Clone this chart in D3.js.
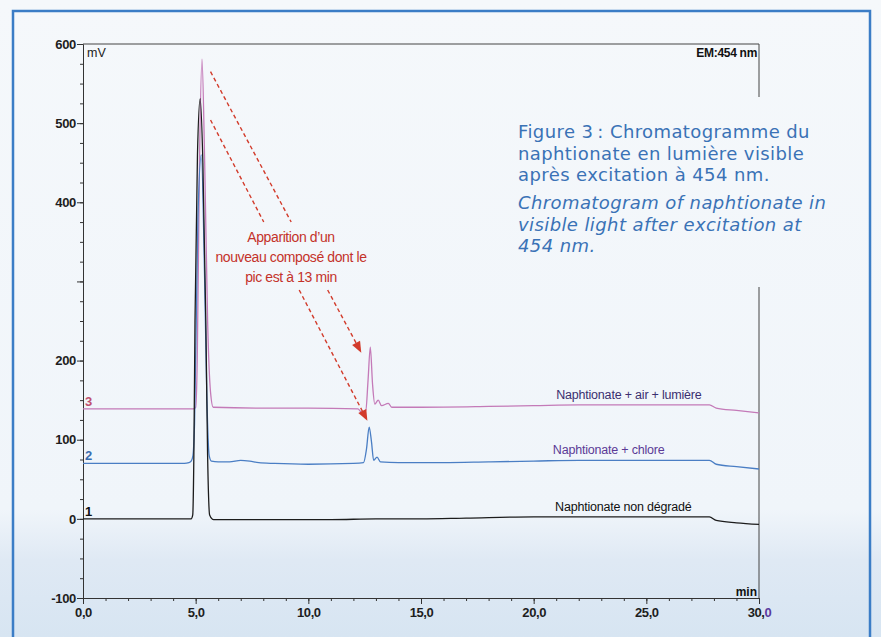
<!DOCTYPE html>
<html>
<head>
<meta charset="utf-8">
<script src="https://cdn.jsdelivr.net/npm/d3@7"></script>
<style>
body{margin:0;background:#eef3f8;}
svg{display:block;}
</style>
</head>
<body>
<svg id="chart"></svg>
<script>
// trace 1 : naphtionate non dégradé (min, mV)
var timeBlack = [0, 4.8, 4.87, 4.92, 4.97, 5.08, 5.2, 5.32, 5.45, 5.53, 5.62, 5.8, 7, 9, 11, 13, 15, 17, 20, 23, 26, 27.8, 28.1, 29, 30];
var valBlack  = [0, 0, 5, 80, 250, 460, 531, 450, 250, 80, 5, -1, -1, -1, -1, 0, 0, 1, 2.5, 2.5, 2.5, 2.5, -2, -5, -7];

// trace 2 : naphtionate + chlore
var timeBlue = [0, 4.5, 4.7, 4.8, 4.88, 4.95, 5.1, 5.25, 5.4, 5.5, 5.6, 5.7, 6, 6.5, 7, 7.4, 7.8, 8.5, 10, 12, 12.45, 12.58, 12.7, 12.8, 12.9, 13.05, 13.2, 14, 16, 18, 20, 22, 24, 26, 27.8, 28.1, 29, 30];
var valBlue  = [70, 70, 71, 73, 80, 120, 380, 460, 300, 150, 80, 73, 72, 72, 74, 73, 71, 70, 69, 70, 71, 88, 116, 98, 74, 78, 72, 71, 71, 72, 73, 74, 74, 74, 74, 69, 66, 63];

// trace 3 : naphtionate + air + lumière
var timePink = [0, 4.9, 5.0, 5.07, 5.17, 5.28, 5.4, 5.53, 5.66, 5.78, 8, 10, 12.2, 12.35, 12.55, 12.65, 12.75, 12.85, 12.95, 13.1, 13.25, 13.55, 13.7, 15, 18, 20, 22, 24, 26, 27.8, 28.1, 29, 30];
var valPink  = [139, 139, 141, 200, 450, 581, 450, 250, 160, 141, 140, 140, 139, 135, 137, 175, 217, 170, 145, 150, 143, 146, 141, 141, 142, 143, 144, 144, 144, 144, 140, 137, 134];

var yMajorTicks = [-100, 0, 100, 200, 300, 400, 500, 600];
var yTickLabels = ["-100", "0", "100", "200", "", "400", "500", "600"];
var xMajorTicks = [0, 5, 10, 15, 20, 25, 30];
var xTickLabels = ["0,0", "5,0", "10,0", "15,0", "20,0", "25,0", "30,0"];

var traceNames = ["Naphtionate non dégradé", "Naphtionate  + chlore", "Naphtionate + air + lumière"];
var traceNumbers = ["1", "2", "3"];

var noteLines = ["Apparition d\u2019un", "nouveau composé  dont le", "pic est à 13 min"];
var captionFr = ["Figure 3\u2009: Chromatogramme du", "naphtionate en lumière visible", "après excitation à 454 nm."];
var captionEn = ["Chromatogram of naphtionate in", "visible light after excitation at", "454 nm."];

var width = 881, height = 637;

var svg = d3.select("#chart")
  .attr("width", width)
  .attr("height", height)
  .style("font-family", "'Liberation Sans', Arial, sans-serif");

var defs = svg.append("defs");
var grad = defs.append("linearGradient")
  .attr("id", "bg").attr("x1", 0).attr("y1", 0).attr("x2", 0).attr("y2", 1);
grad.append("stop").attr("offset", "0").attr("stop-color", "#f5f8fb");
grad.append("stop").attr("offset", "0.8").attr("stop-color", "#f0f5fa");
grad.append("stop").attr("offset", "0.88").attr("stop-color", "#dfe9f4");
grad.append("stop").attr("offset", "1").attr("stop-color", "#d7e5f2");

svg.append("rect")
  .attr("width", width).attr("height", height)
  .attr("fill", "url(#bg)");

// blue page frame
svg.append("rect")
  .attr("x", 13).attr("y", 11)
  .attr("width", 857).attr("height", 640)
  .attr("fill", "none")
  .attr("stroke", "#3b7dc6")
  .attr("stroke-width", 2.5);

var xScale = d3.scaleLinear().domain([0, 30]).range([83, 759]);
var yScale = d3.scaleLinear().domain([-100, 600]).range([598, 44]);

var yAxis = d3.axisLeft(yScale)
  .tickValues(yMajorTicks)
  .tickSize(6)
  .tickSizeOuter(0)
  .tickPadding(1)
  .tickFormat(function(d, i){ return yTickLabels[i]; });

var yMinor = d3.axisLeft(yScale)
  .tickValues(d3.range(-100, 601, 25))
  .tickSize(3)
  .tickSizeOuter(0)
  .tickFormat("");

var xAxis = d3.axisBottom(xScale)
  .tickValues(xMajorTicks)
  .tickSize(6)
  .tickSizeOuter(0)
  .tickPadding(4)
  .tickFormat(function(d, i){ return xTickLabels[i]; });

var xMinor = d3.axisBottom(xScale)
  .tickValues(d3.range(0, 31, 1))
  .tickSize(3)
  .tickSizeOuter(0)
  .tickFormat("");

svg.append("g")
  .attr("transform", "translate(" + xScale(0) + ",0)")
  .call(yMinor);

var gy = svg.append("g")
  .attr("transform", "translate(" + xScale(0) + ",0)")
  .call(yAxis);

svg.append("g")
  .attr("transform", "translate(0," + yScale(-100) + ")")
  .call(xMinor);

var gx = svg.append("g")
  .attr("transform", "translate(0," + yScale(-100) + ")")
  .call(xAxis);

svg.selectAll(".domain, .tick line").attr("stroke", "#333");
gy.selectAll("text")
  .attr("font-size", 13).attr("font-weight", "bold").attr("fill", "#1e1e1e")
  .attr("font-family", "'Liberation Sans', Arial, sans-serif")
  .attr("letter-spacing", "-0.3");
gx.selectAll("text")
  .attr("font-size", 13).attr("font-weight", "bold").attr("fill", "#1e1e1e")
  .attr("font-family", "'Liberation Sans', Arial, sans-serif")
  .attr("letter-spacing", "-0.4");

// last label "30,0" : the final zero is purple in the print
gx.selectAll("text").filter(function(d){ return d === 30; })
  .text("30,")
  .append("tspan").attr("fill", "#5b3a9e").text("0");

// top and right frame of the chart (right side broken by the caption)
svg.append("line")
  .attr("x1", xScale(0)).attr("x2", xScale(30))
  .attr("y1", yScale(600)).attr("y2", yScale(600))
  .attr("stroke", "#444").attr("stroke-width", 1);

svg.append("line")
  .attr("x1", xScale(30)).attr("x2", xScale(30))
  .attr("y1", yScale(600)).attr("y2", 97)
  .attr("stroke", "#444").attr("stroke-width", 1);

svg.append("line")
  .attr("x1", xScale(30)).attr("x2", xScale(30))
  .attr("y1", 287).attr("y2", yScale(-100))
  .attr("stroke", "#444").attr("stroke-width", 1);

svg.append("text")
  .attr("x", xScale(0) + 4).attr("y", yScale(600) + 13)
  .attr("font-size", 12.5).attr("fill", "#222")
  .text("mV");

svg.append("text")
  .attr("x", xScale(30) - 2).attr("y", yScale(600) + 13)
  .attr("text-anchor", "end")
  .attr("font-size", 12).attr("font-weight", "bold").attr("fill", "#111")
  .attr("letter-spacing", "-0.3")
  .text("EM:454 nm");

svg.append("text")
  .attr("x", xScale(30) - 2).attr("y", yScale(-100) - 2)
  .attr("text-anchor", "end")
  .attr("font-size", 12).attr("font-weight", "bold").attr("fill", "#111")
  .text("min");

// traces
var traces = [
  {t: timePink,  v: valPink,  color: "#c47ab8", num: traceNumbers[2], numColor: "#c0506e", name: traceNames[2], nameColor: "#3b2f70", at: 21.0},
  {t: timeBlue,  v: valBlue,  color: "#4a7ec4", num: traceNumbers[1], numColor: "#3a6db0", name: traceNames[1], nameColor: "#5b3a96", at: 20.85},
  {t: timeBlack, v: valBlack, color: "#1c1c1c", num: traceNumbers[0], numColor: "#111",    name: traceNames[0], nameColor: "#111", at: 20.95}
];

var drawLine = d3.line()
  .x(function(d){ return xScale(d[0]); })
  .y(function(d){ return yScale(d[1]); })
  .curve(d3.curveMonotoneX);

traces.forEach(function(tr)
{
  var pts = tr.t.map(function(d, i){ return [d, tr.v[i]]; });
  svg.append("path")
    .datum(pts)
    .attr("d", drawLine)
    .attr("fill", "none")
    .attr("stroke", tr.color)
    .attr("stroke-width", 1.3)
    .attr("stroke-linejoin", "round");

  svg.append("text")
    .attr("x", xScale(0) + 2)
    .attr("y", yScale(tr.v[0]) - 3)
    .attr("font-size", 13).attr("font-weight", "bold")
    .attr("fill", tr.numColor)
    .text(tr.num);

  svg.append("text")
    .attr("x", xScale(tr.at))
    .attr("y", yScale(tr.v[tr.v.length - 5]) - 6)
    .attr("font-size", 12.5)
    .attr("fill", tr.nameColor)
    .attr("letter-spacing", "-0.2")
    .text(tr.name);
});

// annotation : dashed red arrows toward the 13 min peaks
var arrows = [
  {from: [5.66, 565], to: [12.35, 210]},
  {from: [5.66, 504], to: [12.62, 124]}
];
var gapTop = 222, gapBottom = 290;
var red = "#d23b2b";

arrows.forEach(function(a)
{
  var x1 = xScale(a.from[0]), y1 = yScale(a.from[1]);
  var x2 = xScale(a.to[0]), y2 = yScale(a.to[1]);
  var ang = Math.atan2(y2 - y1, x2 - x1);
  var hx = x2 - 9 * Math.cos(ang), hy = y2 - 9 * Math.sin(ang);
  var atY = function(yy){ return x1 + (x2 - x1) * (yy - y1) / (y2 - y1); };

  svg.append("line")
    .attr("x1", x1).attr("y1", y1)
    .attr("x2", atY(gapTop)).attr("y2", gapTop)
    .attr("stroke", red).attr("stroke-width", 1.4)
    .attr("stroke-dasharray", "4,3");

  svg.append("line")
    .attr("x1", atY(gapBottom)).attr("y1", gapBottom)
    .attr("x2", hx).attr("y2", hy)
    .attr("stroke", red).attr("stroke-width", 1.4)
    .attr("stroke-dasharray", "4,3");

  var px = -Math.sin(ang), py = Math.cos(ang);
  svg.append("path")
    .attr("d", "M" + x2 + "," + y2 +
      "L" + (x2 - 11 * Math.cos(ang) + 4.5 * px) + "," + (y2 - 11 * Math.sin(ang) + 4.5 * py) +
      "L" + (x2 - 11 * Math.cos(ang) - 4.5 * px) + "," + (y2 - 11 * Math.sin(ang) - 4.5 * py) + "Z")
    .attr("fill", red);
});

svg.append("g")
  .selectAll("text")
  .data(noteLines)
  .enter()
  .append("text")
  .attr("x", 291)
  .attr("y", function(d, i){ return 242 + i * 20; })
  .attr("text-anchor", "middle")
  .attr("font-size", 14)
  .attr("fill", "#c4322a")
  .attr("letter-spacing", "-0.4")
  .text(function(d){ return d; });

// caption
var cap = svg.append("g")
  .style("font-family", "'DejaVu Sans', 'Noto Sans', sans-serif")
  .attr("fill", "#3a72b6");

cap.selectAll("text.fr")
  .data(captionFr)
  .enter()
  .append("text")
  .attr("class", "fr")
  .attr("x", 518)
  .attr("y", function(d, i){ return 138 + i * 21.7; })
  .attr("font-size", 18)
  .attr("letter-spacing", "0.4")
  .text(function(d){ return d; });

cap.selectAll("text.en")
  .data(captionEn)
  .enter()
  .append("text")
  .attr("class", "en")
  .attr("x", 518)
  .attr("y", function(d, i){ return 209 + i * 21.7; })
  .attr("font-size", 18)
  .attr("font-style", "italic")
  .attr("letter-spacing", "0.4")
  .text(function(d){ return d; });
</script>
</body>
</html>
